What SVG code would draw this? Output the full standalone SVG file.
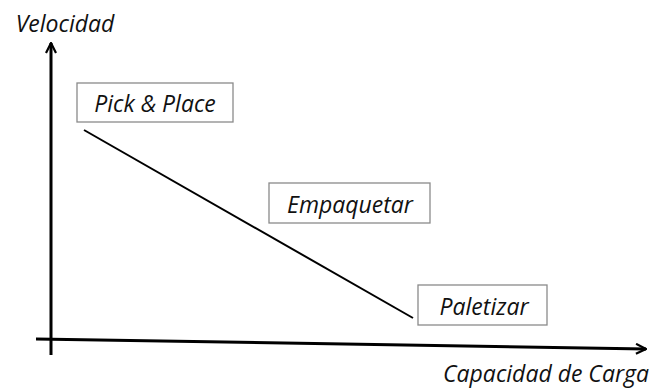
<svg xmlns="http://www.w3.org/2000/svg" width="653" height="388" viewBox="0 0 653 388">
<defs>
<marker id="arr" viewBox="0 0 12 12" refX="11" refY="6" markerWidth="12" markerHeight="12" markerUnits="userSpaceOnUse" orient="auto">
<path d="M1,1 L11,6 L1,11" fill="none" stroke="#000" stroke-width="2.2"/>
</marker>
</defs>
<style>
.t{font-family:"Open Sans","Liberation Sans",sans-serif;font-style:italic;font-size:23px;fill:#111;}
.box{fill:#fff;stroke:#8a8a8a;stroke-width:1.3;}
.ax{stroke:#000;stroke-width:3;fill:none;}
</style>
<rect width="653" height="388" fill="#fff"/>
<g id="connectors">
<line class="ax" x1="51" y1="355" x2="51" y2="43" marker-end="url(#arr)"/>
<line class="ax" x1="36" y1="339" x2="646" y2="349" marker-end="url(#arr)"/>
<line x1="84" y1="130" x2="413" y2="318" stroke="#000" stroke-width="2"/>
</g>
<g id="velocidad"><text class="t" x="65" y="32" text-anchor="middle">Velocidad</text></g>
<g id="pick"><rect class="box" x="77" y="83" width="156" height="39"/><text class="t" x="155" y="112" text-anchor="middle">Pick &amp; Place</text></g>
<g id="empaquetar"><rect class="box" x="269" y="183" width="161" height="40"/><text class="t" x="350" y="213" text-anchor="middle">Empaquetar</text></g>
<g id="paletizar"><rect class="box" x="418" y="285" width="129" height="40"/><text class="t" x="484" y="315" text-anchor="middle">Paletizar</text></g>
<g id="capacidad"><text class="t" x="546" y="382" text-anchor="middle">Capacidad de Carga</text></g>
</svg>
